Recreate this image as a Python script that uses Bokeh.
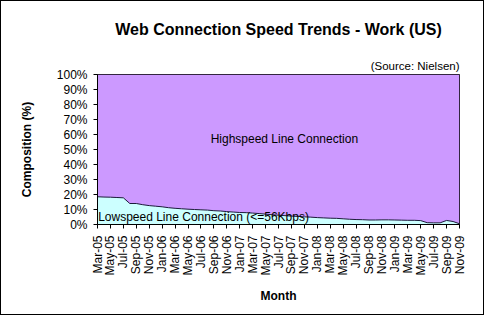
from bokeh.plotting import figure
from bokeh.models import FixedTicker, Label, PrintfTickFormatter, Range1d, Title
from bokeh.embed import file_html
from bokeh.resources import INLINE
import math

years = ["05", "06", "07", "08", "09"]
mnames = ["Jan", "Feb", "Mar", "Apr", "May", "Jun", "Jul", "Aug", "Sep", "Oct", "Nov", "Dec"]
months = []
for y in years:
    for m in mnames:
        months.append(f"{m}-{y}")
months = months[2:months.index("Nov-09") + 1]

lowspeed = [18.5, 18.3, 18.2, 18.0, 17.8, 14.0, 14.0, 13.2, 12.6, 12.2,
            11.8, 11.2, 10.8, 10.5, 10.2, 10.0, 9.8, 9.6, 9.2, 9.0,
            8.6, 8.3, 8.0, 7.9, 7.6, 7.3, 6.9, 6.5, 6.2, 5.9,
            5.6, 5.4, 5.1, 4.9, 4.6, 4.4, 4.2, 4.1, 3.8, 3.5,
            3.3, 3.2, 3.0, 3.0, 3.1, 3.1, 3.0, 2.9, 2.8, 2.8,
            2.6, 1.2, 1.1, 1.1, 2.7, 2.0, 0.5]
highspeed = [100 - v for v in lowspeed]
total = [l + h for l, h in zip(lowspeed, highspeed)]

xs = list(range(len(months)))
FONT = "Liberation Sans"

p = figure(width=484, height=315, output_backend="svg", toolbar_location=None,
           x_range=Range1d(0, len(months) - 1), y_range=Range1d(0, 100),
           min_border_left=97, min_border_right=25, min_border_top=74, min_border_bottom=91,
           title="Web Connection Speed Trends - Work (US)")
p.styles = {"background-color": "white", "box-shadow": "inset 0 0 0 1px black"}
p.background_fill_color = "white"
p.border_fill_color = None
p.outline_line_color = "black"
p.outline_line_width = 1
p.grid.visible = False

p.title.align = "center"
p.title.text_font = FONT
p.title.text_font_size = "16px"
p.title.text_font_style = "bold"
p.title.text_color = "black"
p.title.standoff = 36
p.title.offset = -6

source_title = Title(text="(Source: Nielsen)", align="right",
                     text_font=FONT, text_font_size="11.5px", text_font_style="normal",
                     text_color="black", standoff=5)
p.add_layout(source_title, "above")

p.varea(x=xs, y1=0, y2=lowspeed, fill_color="#CCFFFF")
p.varea(x=xs, y1=lowspeed, y2=total, fill_color="#CC99FF")
p.line(x=xs, y=lowspeed, line_color="#1a1a3a", line_width=1)

ax = p.xaxis[0]
ax.ticker = FixedTicker(ticks=xs[::2])
ax.major_label_overrides = {i: months[i] for i in xs[::2]}
ax.major_label_orientation = math.pi / 2
ax.major_label_text_font = FONT
ax.major_label_text_font_size = "12px"
ax.major_label_text_color = "black"
ax.major_tick_out = 4
ax.major_tick_in = 0
ax.minor_tick_out = 0
ax.minor_tick_in = 0
ax.axis_line_color = "black"
ax.major_label_standoff = 7
ax.axis_label = "Month"
ax.axis_label_text_font = FONT
ax.axis_label_text_font_size = "12px"
ax.axis_label_text_font_style = "bold"
ax.axis_label_text_color = "black"
ax.axis_label_standoff = 10

ay = p.yaxis[0]
ay.ticker = FixedTicker(ticks=list(range(0, 101, 10)))
ay.formatter = PrintfTickFormatter(format="%d%%")
ay.major_label_text_font = FONT
ay.major_label_text_font_size = "12px"
ay.major_label_text_color = "black"
ay.major_tick_out = 4
ay.major_tick_in = 0
ay.minor_tick_out = 0
ay.minor_tick_in = 0
ay.axis_line_color = "black"
ay.major_label_standoff = 6
ay.axis_label = "Composition (%)"
ay.axis_label_text_font = FONT
ay.axis_label_text_font_size = "12px"
ay.axis_label_text_font_style = "bold"
ay.axis_label_text_color = "black"
ay.axis_label_standoff = 20

p.add_layout(Label(x=17.5, y=57, text="Highspeed Line Connection",
                   text_font=FONT, text_font_size="12px",
                   text_align="left", text_baseline="middle", text_color="black"))
p.add_layout(Label(x=0.1, y=5.3, text="Lowspeed Line Connection (<=56Kbps)",
                   text_font=FONT, text_font_size="12px",
                   text_align="left", text_baseline="middle", text_color="black"))

open("out.html", "w").write(file_html(p, INLINE))
